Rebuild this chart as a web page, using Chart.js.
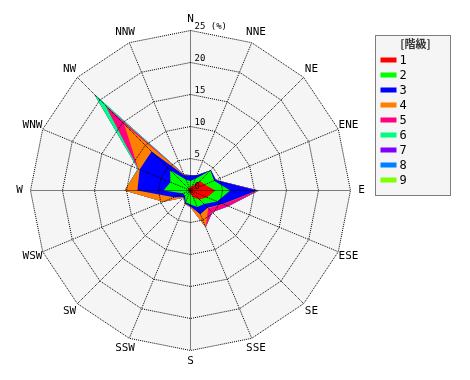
<!DOCTYPE html>
<html>
<head>
<meta charset="utf-8">
<script src="https://cdn.jsdelivr.net/npm/chart.js@4"></script>
<style>
  html, body { margin: 0; padding: 0; background: #fff; }
</style>
</head>
<body>
<canvas id="windRose" width="470" height="380"></canvas>
<script>
// 16 directions, clockwise from north
const directions = ['N', 'NNE', 'NE', 'ENE', 'E', 'ESE', 'SE', 'SSE',
                    'S', 'SSW', 'SW', 'WSW', 'W', 'WNW', 'NW', 'NNW'];

// frequency (%) of each class per direction
const class1 = [0.5, 0.8, 2.1, 2.4, 3.9, 2.8, 2.0, 1.2, 0.5, 0.3, 0.2, 0.2, 0.3, 0.4, 0.6, 0.4];
const class2 = [1.0, 1.2, 2.3, 1.6, 2.3, 1.7, 1.0, 1.6, 1.7, 1.7, 1.0, 1.0, 3.9, 3.0, 3.9, 1.4];
const class3 = [0.9, 0.6, 0.1, 0.3, 4.2, 1.0, 0.8, 1.2, 0.3, 0.2, 0.3, 1.6, 4.1, 5.2, 4.1, 0.8];
const class4 = [0.0, 0.0, 0.0, 0.0, 0.1, 0.1, 0.1, 2.2, 0.1, 0.1, 0.1, 1.8, 2.0, 0.2, 6.1, 0.1];
const class5 = [0.0, 0.0, 0.0, 0.0, 0.1, 0.8, 0.9, 0.0, 0.0, 0.0, 0.0, 0.0, 0.0, 0.0, 4.1, 0.0];
const class6 = [0.0, 0.0, 0.0, 0.0, 0.0, 0.0, 0.0, 0.0, 0.0, 0.0, 0.0, 0.0, 0.0, 0.1, 2.5, 0.1];
const class7 = [0.0, 0.0, 0.0, 0.0, 0.1, 0.0, 0.0, 0.0, 0.0, 0.0, 0.0, 0.0, 0.0, 0.0, 0.0, 0.0];
const class8 = [0.0, 0.0, 0.0, 0.0, 0.0, 0.0, 0.0, 0.0, 0.0, 0.0, 0.0, 0.0, 0.0, 0.0, 0.0, 0.0];
const class9 = [0.0, 0.0, 0.0, 0.0, 0.0, 0.0, 0.0, 0.0, 0.0, 0.0, 0.0, 0.0, 0.0, 0.0, 0.0, 0.0];

const classNames = ['1', '2', '3', '4', '5', '6', '7', '8', '9'];
const classColors = ['#ff0000', '#00ff00', '#0000ff', '#ff8000', '#ff0080',
                     '#00ff80', '#8000ff', '#0080ff', '#80ff00'];

const tickValues = [0, 5, 10, 15, 20, 25];
const unitLabel = '(%)';
const legendTitle = '[階級]';

// stack the classes: each polygon is the running total
const classSeries = [class1, class2, class3, class4, class5, class6, class7, class8, class9];
let running = directions.map(() => 0);
const datasets = classSeries.map((vals, k) => {
  running = running.map((s, i) => Math.round((s + vals[i]) * 10) / 10);
  return {
    label: classNames[k],
    data: running.slice(),
    backgroundColor: classColors[k],
    borderWidth: 0,
    pointRadius: 0,
    fill: 'origin'
  };
});

// light grey disc under the data
const roseBackground = {
  id: 'roseBackground',
  beforeDatasetsDraw(chart) {
    const r = chart.scales.r;
    const ctx = chart.ctx;
    ctx.save();
    ctx.beginPath();
    directions.forEach((d, i) => {
      const p = r.getPointPosition(i, r.drawingArea);
      if (i === 0) ctx.moveTo(p.x, p.y); else ctx.lineTo(p.x, p.y);
    });
    ctx.closePath();
    ctx.fillStyle = '#f5f5f5';
    ctx.fill();
    ctx.restore();
  }
};

// direction names centred outside the rim, ticks beside the N axis
const roseLabels = {
  id: 'roseLabels',
  afterDraw(chart) {
    const r = chart.scales.r;
    const ctx = chart.ctx;
    ctx.save();
    ctx.fillStyle = '#000';
    ctx.font = '11px "DejaVu Sans Mono"';
    ctx.textAlign = 'center';
    ctx.textBaseline = 'middle';
    directions.forEach((d, i) => {
      const p = r.getPointPosition(i, r.drawingArea + 11);
      ctx.fillText(d, p.x, p.y);
    });
    ctx.font = '9px "DejaVu Sans Mono"';
    ctx.textAlign = 'left';
    const last = tickValues[tickValues.length - 1];
    tickValues.forEach(v => {
      const y = r.yCenter - r.getDistanceFromCenterForValue(v) - 4;
      ctx.fillText(v === last ? v + ' ' + unitLabel : String(v), r.xCenter + 4, y);
    });
    ctx.restore();
  }
};

// boxed legend on the right
const boxLegend = {
  id: 'boxLegend',
  afterDraw(chart) {
    const ctx = chart.ctx;
    const x = 375, y = 35, w = 75, h = 160;
    ctx.save();
    ctx.fillStyle = '#f5f5f5';
    ctx.fillRect(x, y, w, h);
    ctx.setLineDash([1, 1]);
    ctx.strokeStyle = '#000';
    ctx.lineWidth = 1;
    ctx.strokeRect(x, y, w, h);
    ctx.setLineDash([]);
    ctx.fillStyle = '#333';
    ctx.font = 'bold 11px "Noto Sans CJK JP"';
    ctx.textAlign = 'center';
    ctx.textBaseline = 'middle';
    ctx.fillText(legendTitle, 415, 43);
    ctx.font = '12px "DejaVu Sans Mono"';
    ctx.textAlign = 'left';
    chart.data.datasets.forEach((ds, i) => {
      const cy = 60 + i * 15;
      ctx.fillStyle = ds.backgroundColor;
      ctx.fillRect(380, cy - 3, 16, 5);
      ctx.fillStyle = '#000';
      ctx.fillText(ds.label, 399, cy);
    });
    ctx.restore();
  }
};

// shift everything by half a pixel so the 1px dotted lines land on whole pixels
const crispLines = {
  id: 'crispLines',
  beforeDraw(chart) {
    chart.ctx.save();
    chart.ctx.translate(0.5, 0.5);
  },
  afterDraw(chart) {
    chart.ctx.restore();
  }
};

const chart = new Chart(document.getElementById('windRose'), {
  type: 'radar',
  data: { labels: directions, datasets: datasets },
  options: {
    responsive: false,
    animation: false,
    layout: { padding: { left: 30, top: 30, right: 120, bottom: 30 } },
    elements: { line: { tension: 0 } },
    plugins: {
      legend: { display: false },
      tooltip: { enabled: false }
    },
    scales: {
      r: {
        min: 0,
        max: 25,
        ticks: { stepSize: 5, display: false },
        pointLabels: { display: false },
        grid: { color: '#000', lineWidth: 1, z: 1 },
        border: { dash: [1, 1] },
        angleLines: { color: '#000', lineWidth: 1, borderDash: [1, 1] }
      }
    }
  },
  plugins: [roseBackground, roseLabels, boxLegend, crispLines]
});
</script>
</body>
</html>
